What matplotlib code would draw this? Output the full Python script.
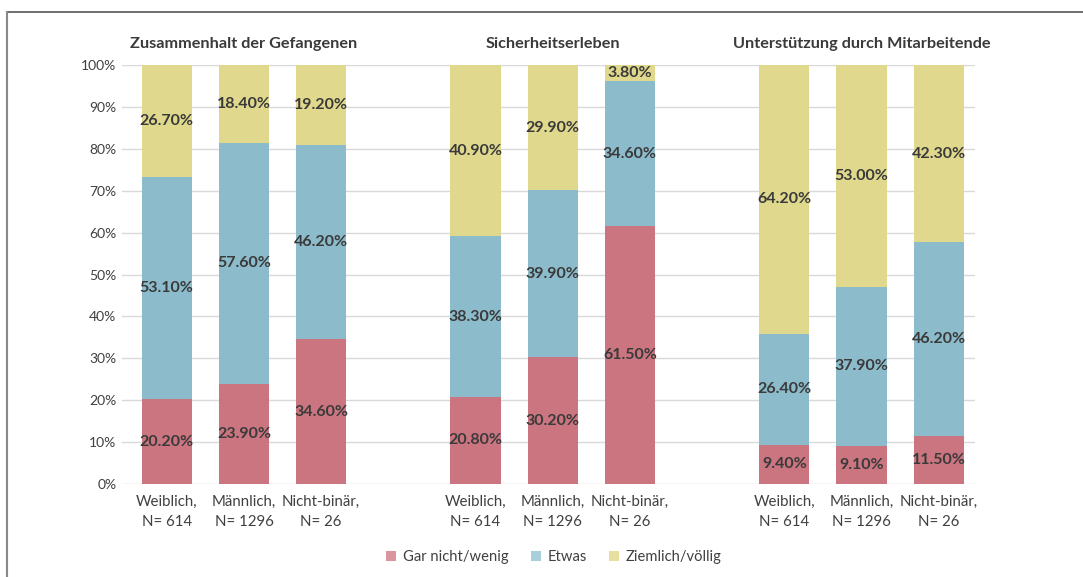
import matplotlib.pyplot as plt
from matplotlib.patches import Patch
from matplotlib.lines import Line2D

plt.rcParams["font.family"] = ["Lato", "DejaVu Sans"]

groups = ["Zusammenhalt der Gefangenen", "Sicherheitserleben", "Unterstützung durch Mitarbeitende"]
categories = ["Weiblich,\nN= 614", "Männlich,\nN= 1296", "Nicht-binär,\nN= 26"]
series = ["Gar nicht/wenig", "Etwas", "Ziemlich/völlig"]

gar_nicht = [20.2, 23.9, 34.6, 20.8, 30.2, 61.5, 9.4, 9.1, 11.5]
etwas = [53.1, 57.6, 46.2, 38.3, 39.9, 34.6, 26.4, 37.9, 46.2]
ziemlich = [26.7, 18.4, 19.2, 40.9, 29.9, 3.8, 64.2, 53.0, 42.3]

colors = ["#CB7580", "#8CBBCB", "#E0D98D"]
legend_colors = ["#D9969F", "#A9CFDB", "#E6DF9F"]
text_dark = "#3A3A3A"

positions = [0, 1, 2, 4, 5, 6, 8, 9, 10]

fig = plt.figure(figsize=(10.83, 5.77), dpi=100)
ax = fig.add_axes([122 / 1083, 1 - 484 / 577, (975 - 122) / 1083, (484 - 65) / 577])

bottom = [0] * len(positions)
for vals, col in zip([gar_nicht, etwas, ziemlich], colors):
    bars = ax.bar(positions, vals, bottom=bottom, width=0.65, color=col, zorder=2)
    for x, b, v in zip(positions, bottom, vals):
        ax.text(x, b + v / 2, f"{v:.2f}%", ha="center", va="center",
                fontsize=11.5, fontweight="bold", color=text_dark, zorder=3)
    bottom = [b + v for b, v in zip(bottom, vals)]

ax.set_xlim(-0.58, 10.47)
ax.set_ylim(0, 100)
ax.set_yticks(range(0, 101, 10))
ax.set_yticklabels([f"{t}%" for t in range(0, 101, 10)], fontsize=10, color="#404040")
ax.set_xticks(positions)
ax.set_xticklabels(categories * 3, fontsize=10.8, color="#404040", linespacing=1.55)
ax.tick_params(length=0, axis="both")
ax.tick_params(axis="x", pad=8)
ax.tick_params(axis="y", pad=4)
ax.grid(axis="y", color="#D9D9D9", linewidth=1, zorder=0)
for s in ax.spines.values():
    s.set_visible(False)

for i, g in enumerate(groups):
    ax.text(positions[3 * i + 1], 105, g, ha="center", va="center",
            fontsize=11.7, fontweight="bold", color=text_dark)

handles = [Patch(facecolor=c, edgecolor="none") for c in legend_colors]
fig.legend(handles, series, loc="center", bbox_to_anchor=(554 / 1083, 1 - 557 / 577),
           ncol=3, frameon=False, fontsize=10.6, handlelength=0.7, handleheight=0.7,
           columnspacing=1.5, handletextpad=0.45, labelcolor="#404040")

# frame lines top and left
fig.add_artist(Line2D([7 / 1083, 1], [1 - 12 / 577, 1 - 12 / 577], color="#555555", linewidth=1.2))
fig.add_artist(Line2D([7 / 1083, 7 / 1083], [0, 1 - 12 / 577], color="#888888", linewidth=1.5))

fig.savefig("out.png", dpi=100)
